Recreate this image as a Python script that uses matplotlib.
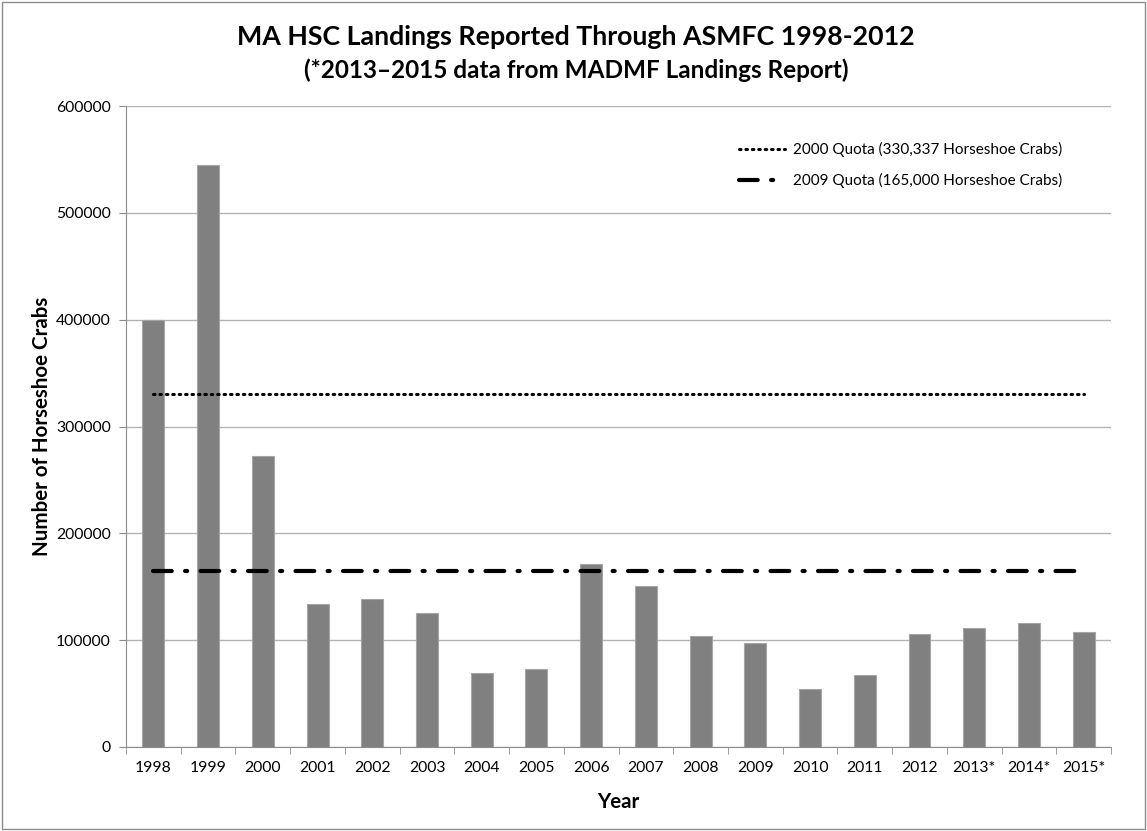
import matplotlib.pyplot as plt
import numpy as np

plt.rcParams['font.family'] = ['Lato', 'DejaVu Sans']

years = ['1998', '1999', '2000', '2001', '2002', '2003', '2004', '2005', '2006',
         '2007', '2008', '2009', '2010', '2011', '2012', '2013*', '2014*', '2015*']
landings = [400000, 545000, 272000, 134000, 138500, 125000, 69000, 73000, 171500,
            150500, 104000, 97500, 54500, 67000, 106000, 111000, 116500, 107500]
quota_2000 = 330337
quota_2009 = 165000

fig = plt.figure(figsize=(11.47, 8.31), dpi=100)
fig.patches.append(plt.Rectangle((0.002, 0.002), 0.996, 0.996, transform=fig.transFigure,
                                 fill=False, edgecolor='#8c8c8c', lw=1))
ax = fig.add_axes([0.1099, 0.1011, 0.8587, 0.7713])

x = np.arange(len(years))
ax.bar(x, landings, width=0.4, color='#808080', edgecolor='#a6a6a6', lw=0.8, zorder=2)
ax.plot(x, [quota_2000] * len(x), color='black', lw=2.2, linestyle=(0, (0.5, 1.6)),
        dash_capstyle='round', label='2000 Quota (330,337 Horseshoe Crabs)', zorder=3)
ax.plot(x, [quota_2009] * len(x), color='black', lw=3, linestyle=(0, (4.5, 3.2, 0.5, 3.2)),
        dash_capstyle='round', label='2009 Quota (165,000 Horseshoe Crabs)', zorder=3)

ax.set_xlim(-0.5, len(x) - 0.5)
ax.set_ylim(0, 600000)
ax.set_yticks(range(0, 600001, 100000))
ax.set_xticks(x)
ax.set_xticklabels(years, fontsize=11.3)
ax.set_xticks(np.arange(-0.5, len(x), 1), minor=True)
ax.tick_params(axis='x', which='major', length=0, pad=10)
ax.tick_params(axis='x', which='minor', length=5, color='#8c8c8c')
ax.tick_params(axis='y', length=5, color='#8c8c8c', labelsize=11.3, pad=6)
ax.yaxis.grid(True, color='#b3b3b3', lw=1, zorder=0)
ax.set_axisbelow(True)
for s in ['top', 'right']:
    ax.spines[s].set_visible(False)
for s in ['left', 'bottom']:
    ax.spines[s].set_color('#8c8c8c')

ax.set_xlabel('Year', fontsize=14.8, fontweight='bold', labelpad=12)
ax.set_ylabel('Number of Horseshoe Crabs', fontsize=14.8, fontweight='bold', labelpad=3)

fig.text(0.502, 0.955, 'MA HSC Landings Reported Through ASMFC 1998-2012',
         ha='center', va='center', fontsize=19.3, fontweight='bold')
fig.text(0.502, 0.916, '(*2013\u20132015 data from MADMF Landings Report)',
         ha='center', va='center', fontsize=17.5, fontweight='bold')

ax.legend(loc='upper right', bbox_to_anchor=(0.964, 0.965), frameon=False, fontsize=11,
          handlelength=3.0, handletextpad=0.5, labelspacing=1.05)

fig.savefig('out.png', dpi=100)
